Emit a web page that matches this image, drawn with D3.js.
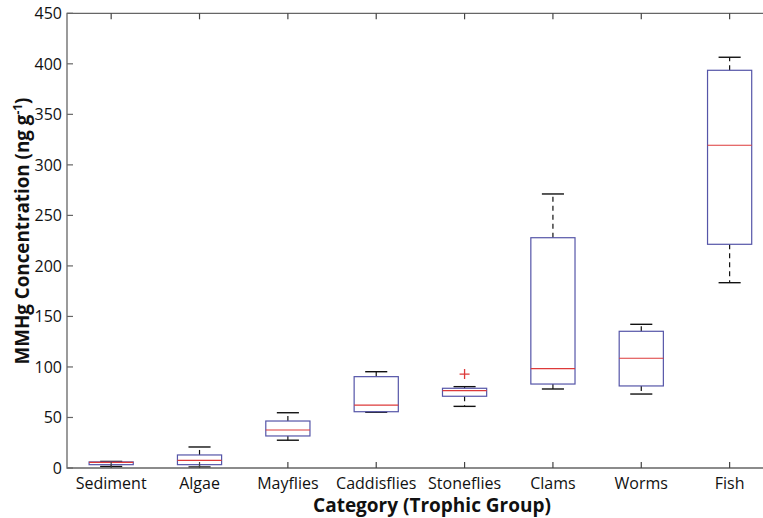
<!DOCTYPE html>
<html><head><meta charset="utf-8">
<script src="https://cdn.jsdelivr.net/npm/d3@7"></script>
<style>body{margin:0;background:#fff}svg{display:block}text{font-family:"Open Sans","Noto Sans",sans-serif}</style>
</head><body><svg id="c" width="763" height="518"></svg>
<script>
const categories = ["Sediment","Algae","Mayflies","Caddisflies","Stoneflies","Clams","Worms","Fish"];
const whiskerLow  = [1.5, 1, 27.5, 55.2, 61, 78.2, 73.2, 183.4];
const q1          = [3.3, 3.3, 31.7, 55.7, 71, 83.1, 81.2, 221.4];
const medians     = [5.6, 7.6, 37.6, 62.3, 76.5, 98.3, 108.6, 319.4];
const q3          = [6.0, 12.9, 46.5, 90.4, 78.9, 227.9, 135.3, 393.6];
const whiskerHigh = [6.5, 20.8, 54.7, 95.3, 80.5, 271.2, 142.2, 406.5];
const outliers    = [[], [], [], [], [93], [], [], []];
const yTicks = [0,50,100,150,200,250,300,350,400,450];

const svg = d3.select("#c");
const L=67, T=13.3, B=468, R=773.8;
const x = d3.scaleLinear().domain([0.5, 8.5]).range([L, R]);
const y = d3.scaleLinear().domain([0, 450]).range([B, T]);
const axisCol = "#666";
const boxCol = "#5555a8";
const medCol = "#dd3a3a";

const data = categories.map((c,i)=>({c, i:i+1, lo:whiskerLow[i], q1:q1[i], med:medians[i], q3:q3[i], hi:whiskerHigh[i], out:outliers[i]}));

const g = svg.append("g");
data.forEach(d=>{
  const cx = x(d.i), bw = x(d.i+0.25)-x(d.i), cw = x(d.i+0.125)-x(d.i);
  g.append("line").attr("x1",cx).attr("x2",cx).attr("y1",y(d.q3)).attr("y2",y(d.hi)).attr("stroke","#111").attr("stroke-width",1.2).attr("stroke-dasharray","5,4");
  g.append("line").attr("x1",cx).attr("x2",cx).attr("y1",y(d.q1)).attr("y2",y(d.lo)).attr("stroke","#111").attr("stroke-width",1.2).attr("stroke-dasharray","5,4");
  g.append("line").attr("x1",cx-cw).attr("x2",cx+cw).attr("y1",y(d.hi)).attr("y2",y(d.hi)).attr("stroke","#111").attr("stroke-width",1.4);
  g.append("line").attr("x1",cx-cw).attr("x2",cx+cw).attr("y1",y(d.lo)).attr("y2",y(d.lo)).attr("stroke","#111").attr("stroke-width",1.4);
  g.append("rect").attr("x",cx-bw).attr("width",2*bw).attr("y",y(d.q3)).attr("height",y(d.q1)-y(d.q3)).attr("fill","none").attr("stroke",boxCol).attr("stroke-width",1.2);
  g.append("line").attr("x1",cx-bw).attr("x2",cx+bw).attr("y1",y(d.med)).attr("y2",y(d.med)).attr("stroke",medCol).attr("stroke-width",1.2);
  d.out.forEach(o=>{
    g.append("path").attr("d",`M${cx-5},${y(o)}H${cx+5}M${cx},${y(o)-5}V${y(o)+5}`).attr("stroke",medCol).attr("stroke-width",1.3);
  });
});

svg.append("path").attr("d",`M${R},${T}H${L}V${B}H${R}`).attr("fill","none").attr("stroke",axisCol).attr("stroke-width",1.3);
yTicks.forEach(t=>{
  svg.append("line").attr("x1",L).attr("x2",L+6).attr("y1",y(t)).attr("y2",y(t)).attr("stroke",axisCol).attr("stroke-width",1.2);
  svg.append("text").attr("x",L-5).attr("y",y(t)).attr("dy","0.36em").attr("text-anchor","end").attr("font-size",16).attr("fill","#111").text(t);
});
data.forEach(d=>{
  svg.append("line").attr("x1",x(d.i)).attr("x2",x(d.i)).attr("y1",B).attr("y2",B-6).attr("stroke","#444").attr("stroke-width",1.2);
  svg.append("line").attr("x1",x(d.i)).attr("x2",x(d.i)).attr("y1",T).attr("y2",T+6).attr("stroke","#444").attr("stroke-width",1.2);
  svg.append("text").attr("x",x(d.i)).attr("y",489).attr("text-anchor","middle").attr("font-size",16).attr("fill","#111").text(d.c);
});
svg.append("text").attr("x",432).attr("y",512).attr("text-anchor","middle").attr("font-size",19).attr("font-weight","bold").attr("fill","#111").text("Category (Trophic Group)");
const yl = svg.append("text").attr("transform","translate(29,231) rotate(-90)").attr("text-anchor","middle").attr("font-size",18.8).attr("font-weight","bold").attr("fill","#111");
yl.append("tspan").text("MMHg Concentration (ng g");
yl.append("tspan").attr("dy",-7).attr("font-size",12).text("-1");
yl.append("tspan").attr("dy",7).text(")");
</script></body></html>
